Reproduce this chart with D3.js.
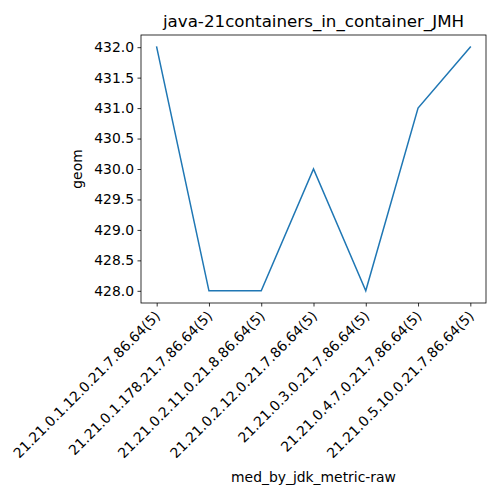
<!DOCTYPE html>
<html>
<head>
<meta charset="utf-8">
<script src="https://cdn.jsdelivr.net/npm/d3@7"></script>
<style>
  body { margin: 0; background: #fff; }
  text { font-family: "DejaVu Sans", sans-serif; fill: #000; }
</style>
</head>
<body>
<div id="chart"></div>
<script>
const categories = [
  "21.21.0.1.12.0.21.7.86.64(5)",
  "21.21.0.1.178.21.7.86.64(5)",
  "21.21.0.2.11.0.21.8.86.64(5)",
  "21.21.0.2.12.0.21.7.86.64(5)",
  "21.21.0.3.0.21.7.86.64(5)",
  "21.21.0.4.7.0.21.7.86.64(5)",
  "21.21.0.5.10.0.21.7.86.64(5)"
];
const geomValues = [432, 428, 428, 430, 428, 431, 432];
const yTicks = [428.0, 428.5, 429.0, 429.5, 430.0, 430.5, 431.0, 431.5, 432.0];

const width = 500, height = 500;
const margin = { top: 35, right: 14, bottom: 197, left: 141 };
const innerWidth = width - margin.left - margin.right;
const innerHeight = height - margin.top - margin.bottom;

const svg = d3.select("#chart").append("svg").attr("width", width).attr("height", height);
const chart = svg.append("g").attr("transform", `translate(${margin.left},${margin.top})`);

const n = categories.length;
const xPad = (n - 1) * 0.05;
const xScale = d3.scaleLinear().domain([-xPad, n - 1 + xPad]).range([0, innerWidth]);
const yMin = d3.min(geomValues), yMax = d3.max(geomValues);
const yPad = (yMax - yMin) * 0.05;
const yScale = d3.scaleLinear().domain([yMin - yPad, yMax + yPad]).range([innerHeight, 0]);

const xAxis = d3.axisBottom(xScale).tickValues(d3.range(n)).tickFormat(i => categories[i])
  .tickSizeOuter(0).tickSize(3.5).tickPadding(3.5);
const yAxis = d3.axisLeft(yScale).tickValues(yTicks).tickFormat(d3.format(".1f"))
  .tickSizeOuter(0).tickSize(3.5).tickPadding(3.5);

const gx = chart.append("g").attr("transform", `translate(0,${innerHeight})`).call(xAxis);
gx.select(".domain").remove();
gx.selectAll("line").attr("stroke", "#000").attr("stroke-width", 0.8);
gx.selectAll("text")
  .attr("font-size", "13.9px")
  .attr("text-anchor", "end")
  .attr("dy", null)
  .attr("y", 0)
  .attr("transform", "translate(4,14) rotate(-45)");

const gy = chart.append("g").call(yAxis);
gy.select(".domain").remove();
gy.selectAll("line").attr("stroke", "#000").attr("stroke-width", 0.8);
gy.selectAll("text").attr("font-size", "13.9px");

chart.append("rect")
  .attr("width", innerWidth).attr("height", innerHeight)
  .attr("fill", "none").attr("stroke", "#000").attr("stroke-width", 0.8);

const line = d3.line().x((d, i) => xScale(i)).y(d => yScale(d));
chart.append("path").datum(geomValues)
  .attr("d", line).attr("fill", "none")
  .attr("stroke", "#1f77b4").attr("stroke-width", 1.5)
  .attr("stroke-linecap", "square");

svg.append("text")
  .attr("x", margin.left + innerWidth / 2).attr("y", 27)
  .attr("text-anchor", "middle").attr("font-size", "16.7px")
  .text("java-21containers_in_container_JMH");

svg.append("text")
  .attr("x", margin.left + innerWidth / 2).attr("y", 482)
  .attr("text-anchor", "middle").attr("font-size", "13.9px")
  .text("med_by_jdk_metric-raw");

svg.append("text")
  .attr("transform", `translate(82,${margin.top + innerHeight / 2}) rotate(-90)`)
  .attr("text-anchor", "middle").attr("font-size", "13.9px")
  .text("geom");
</script>
</body>
</html>
